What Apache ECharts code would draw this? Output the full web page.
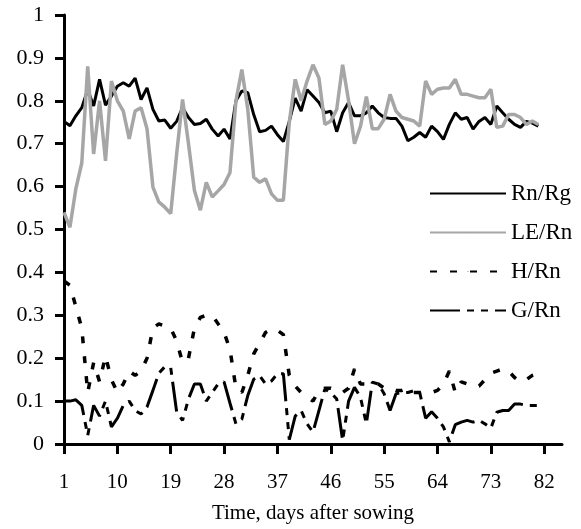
<!DOCTYPE html>
<html>
<head>
<meta charset="utf-8">
<script src="https://cdn.jsdelivr.net/npm/echarts@6/dist/echarts.min.js"></script>
<style>
  html, body { margin: 0; padding: 0; background: #fff; }
  #chart { width: 581px; height: 529px; }
</style>
</head>
<body>
<div id="chart"></div>
<script>
// days after sowing (axis runs a little past the last observation)
const days = Array.from({ length: 85 }, (_, i) => String(i + 1))

// daily energy balance ratios
const rnRg = [
  0.752, 0.742, 0.765, 0.784, 0.826, 0.788, 0.850, 0.790, 0.811, 0.834,
  0.842, 0.834, 0.853, 0.803, 0.830, 0.780, 0.753, 0.755, 0.736, 0.752,
  0.784, 0.761, 0.745, 0.747, 0.757, 0.734, 0.718, 0.734, 0.711, 0.800,
  0.823, 0.819, 0.768, 0.728, 0.731, 0.741, 0.721, 0.705, 0.752, 0.806,
  0.776, 0.826, 0.811, 0.796, 0.772, 0.776, 0.728, 0.772, 0.796, 0.765,
  0.765, 0.772, 0.788, 0.772, 0.761, 0.759, 0.759, 0.741, 0.707, 0.715,
  0.726, 0.715, 0.741, 0.728, 0.710, 0.745, 0.772, 0.757, 0.761, 0.734,
  0.752, 0.761, 0.745, 0.788, 0.772, 0.757, 0.745, 0.738, 0.752, 0.748,
  0.741
]

const leRn = [
  0.540, 0.505, 0.595, 0.655, 0.880, 0.676, 0.800, 0.660, 0.846, 0.800,
  0.776, 0.711, 0.776, 0.784, 0.735, 0.599, 0.564, 0.552, 0.537, 0.676,
  0.803, 0.700, 0.591, 0.545, 0.610, 0.576, 0.590, 0.605, 0.633, 0.800,
  0.873, 0.780, 0.622, 0.610, 0.618, 0.583, 0.568, 0.568, 0.750, 0.850,
  0.800, 0.846, 0.884, 0.853, 0.745, 0.753, 0.780, 0.884, 0.800, 0.700,
  0.740, 0.810, 0.735, 0.735, 0.757, 0.815, 0.776, 0.761, 0.757, 0.753,
  0.741, 0.846, 0.815, 0.827, 0.830, 0.830, 0.850, 0.815, 0.815, 0.811,
  0.807, 0.807, 0.827, 0.738, 0.741, 0.768, 0.768, 0.761, 0.745, 0.753,
  0.745
]

const hRn = [
  0.380, 0.370, 0.320, 0.270, 0.120, 0.190, 0.145, 0.205, 0.150, 0.120,
  0.140, 0.170, 0.160, 0.170, 0.200, 0.270, 0.280, 0.275, 0.270, 0.240,
  0.190, 0.200, 0.270, 0.295, 0.300, 0.300, 0.280, 0.260, 0.220, 0.130,
  0.120, 0.160, 0.210, 0.235, 0.260, 0.268, 0.265, 0.255, 0.160, 0.135,
  0.120, 0.110, 0.100, 0.125, 0.130, 0.130, 0.125, 0.120, 0.130, 0.175,
  0.140, 0.140, 0.140, 0.140, 0.130, 0.130, 0.125, 0.125, 0.130, 0.120,
  0.120, 0.120, 0.120, 0.125, 0.140, 0.170, 0.120, 0.145, 0.140, 0.135,
  0.135, 0.150, 0.165, 0.170, 0.175, 0.170, 0.155, 0.145, 0.150, 0.160,
  0.165
]

const gRn = [
  0.100, 0.100, 0.103, 0.090, 0.020, 0.090, 0.065, 0.100, 0.040, 0.060,
  0.090, 0.100, 0.078, 0.070, 0.086, 0.125, 0.165, 0.180, 0.178, 0.075,
  0.055, 0.105, 0.140, 0.140, 0.100, 0.120, 0.140, 0.145, 0.095, 0.047,
  0.058, 0.113, 0.151, 0.159, 0.140, 0.147, 0.164, 0.164, 0.010, 0.065,
  0.078, 0.047, 0.028, 0.078, 0.128, 0.120, 0.105, 0.008, 0.100, 0.132,
  0.109, 0.047, 0.144, 0.140, 0.117, 0.078, 0.117, 0.120, 0.120, 0.124,
  0.120, 0.060, 0.075, 0.060, 0.040, 0.005, 0.045, 0.051, 0.055, 0.051,
  0.055, 0.047, 0.037, 0.074, 0.078, 0.078, 0.093, 0.093, 0.090, 0.090,
  0.090
]

const serif = '"Liberation Serif", "DejaVu Serif", serif'

const chart = echarts.init(document.getElementById('chart'), null, { renderer: 'canvas' })

function lineSeries(name, data, color, width, type) {
  return {
    name,
    type: 'line',
    data,
    symbol: 'none',
    showSymbol: false,
    smooth: false,
    lineStyle: { color, width, type, cap: 'butt' },
    itemStyle: { color }
  }
}

chart.setOption({
  animation: false,
  backgroundColor: '#fff',
  grid: { left: 64, right: 19, top: 15, bottom: 82, containLabel: false },
  legend: {
    orient: 'vertical',
    left: 429,
    top: 182,
    padding: 0,
    // tiny item height keeps the legend marker a plain line
    itemWidth: 76,
    itemHeight: 1,
    itemGap: 16,
    textStyle: { fontFamily: serif, fontSize: 23, color: '#000', lineHeight: 23 },
    data: ['Rn/Rg', 'LE/Rn', 'H/Rn', 'G/Rn']
  },
  xAxis: {
    type: 'category',
    data: days,
    boundaryGap: false,
    name: 'Time, days after sowing',
    nameLocation: 'middle',
    nameGap: 59,
    nameTextStyle: { fontFamily: serif, fontSize: 21, color: '#000' },
    axisLine: { lineStyle: { color: '#000', width: 3 } },
    axisTick: { show: true, interval: 8, length: 10, lineStyle: { color: '#000', width: 3 } },
    axisLabel: {
      interval: 8,
      margin: 28,
      fontFamily: serif,
      fontSize: 21,
      color: '#000'
    },
    splitLine: { show: false }
  },
  yAxis: {
    type: 'value',
    min: 0,
    max: 1,
    interval: 0.1,
    axisLine: { show: true, lineStyle: { color: '#000', width: 3 } },
    axisTick: { show: true, length: 9, lineStyle: { color: '#000', width: 3 } },
    axisLabel: {
      margin: 20,
      fontFamily: serif,
      fontSize: 22,
      color: '#000',
      formatter: v => String(Math.round(v * 10) / 10)
    },
    splitLine: { show: false }
  },
  series: [
    lineSeries('Rn/Rg', rnRg, '#000', 3, 'solid'),
    lineSeries('LE/Rn', leRn, '#a6a6a6', 3.5, 'solid'),
    lineSeries('H/Rn', hRn, '#000', 3.5, [7, 13]),
    lineSeries('G/Rn', gRn, '#000', 3, [30, 7, 7, 7, 7, 7])
  ]
})
</script>
</body>
</html>
